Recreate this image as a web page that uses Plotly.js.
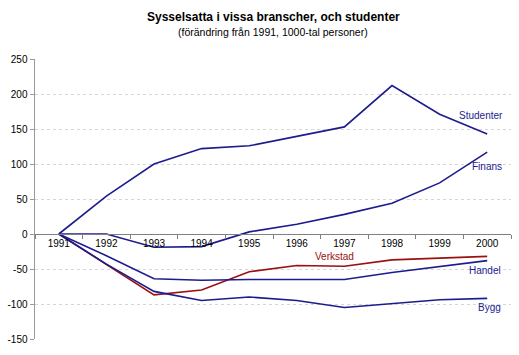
<!DOCTYPE html>
<html>
<head>
<meta charset="utf-8">
<script src="https://cdn.plot.ly/plotly-3.0.1.min.js"></script>
<style>html,body{margin:0;padding:0;background:#fff;}#chart{width:519px;height:355px;}</style>
</head>
<body>
<div id="chart"></div>
<script>
const years = ["1991","1992","1993","1994","1995","1996","1997","1998","1999","2000"];
const studenter = [0, 54, 100, 122, 126, 140, 153, 212, 171, 143];
const finans    = [0, 0, -19, -18, 3, 14, 28, 44, 73, 117];
const verkstad  = [0, -44, -87, -80, -54, -45, -46, -37, -35, -32];
const handel    = [0, -31, -64, -66, -65, -65, -65, -55, -46, -38];
const bygg      = [0, -43, -82, -95, -90, -95, -105, -99, -94, -92];
const seriesNames = ["Studenter", "Finans", "Verkstad", "Handel", "Bygg"];
const yTicks = [-150, -100, -50, 0, 50, 100, 150, 200, 250];

const blue = "#1c1c8f";
const red = "#9b1010";
const font = "Liberation Sans, Arial, sans-serif";

const data = [studenter, finans, verkstad, handel, bygg];
const colors = [blue, blue, red, blue, blue];
const traces = data.map((d, i) => ({
  x: years, y: d, type: "scatter", mode: "lines", name: seriesNames[i],
  line: {color: colors[i], width: 1.6}, hoverinfo: "none"
}));

const labelPos = [
  {x: 8.88, y: 169}, {x: 9.0, y: 96}, {x: 5.79, y: -32},
  {x: 8.96, y: -52}, {x: 9.05, y: -105}
];
const annotations = seriesNames.map((n, i) => ({
  text: n, x: labelPos[i].x, y: labelPos[i].y, xref: "x", yref: "y",
  showarrow: false, font: {family: font, size: 10, color: colors[i]}
}));
annotations.push({
  text: "<b>Sysselsatta i vissa branscher, och studenter</b>",
  xref: "paper", yref: "paper", x: 0.5, y: 1, yshift: 42, xanchor: "center", yanchor: "middle",
  showarrow: false, font: {family: font, size: 12, color: "#000"}
});
annotations.push({
  text: "(förändring från 1991, 1000-tal personer)",
  xref: "paper", yref: "paper", x: 0.5, y: 1, yshift: 27, xanchor: "center", yanchor: "middle",
  showarrow: false, font: {family: font, size: 10.5, color: "#000"}
});

const layout = {
  width: 519, height: 355,
  margin: {l: 35, r: 8, t: 59, b: 16},
  paper_bgcolor: "#fff", plot_bgcolor: "#fff",
  showlegend: false,
  font: {family: font, size: 10, color: "#000"},
  xaxis: {
    type: "category", range: [-0.5, 9.5], anchor: "free", position: 0.375,
    showline: true, linecolor: "#808080", linewidth: 1,
    ticks: "outside", tickson: "boundaries", ticklen: 4, tickcolor: "#808080",
    showgrid: false, zeroline: false, fixedrange: true,
    tickfont: {family: font, size: 10, color: "#000"}
  },
  yaxis: {
    range: [-150, 250], tickvals: yTicks, ticktext: yTicks.map(String),
    showline: true, linecolor: "#999999", linewidth: 1.5,
    ticks: "outside", ticklen: 4, tickcolor: "#999999",
    showgrid: true, gridcolor: "#d6d6d6", griddash: "dot", gridwidth: 1,
    zeroline: false, fixedrange: true,
    tickfont: {family: font, size: 10, color: "#000"}
  },
  annotations: annotations
};

Plotly.newPlot("chart", traces, layout, {displayModeBar: false, staticPlot: true});
</script>
</body>
</html>
